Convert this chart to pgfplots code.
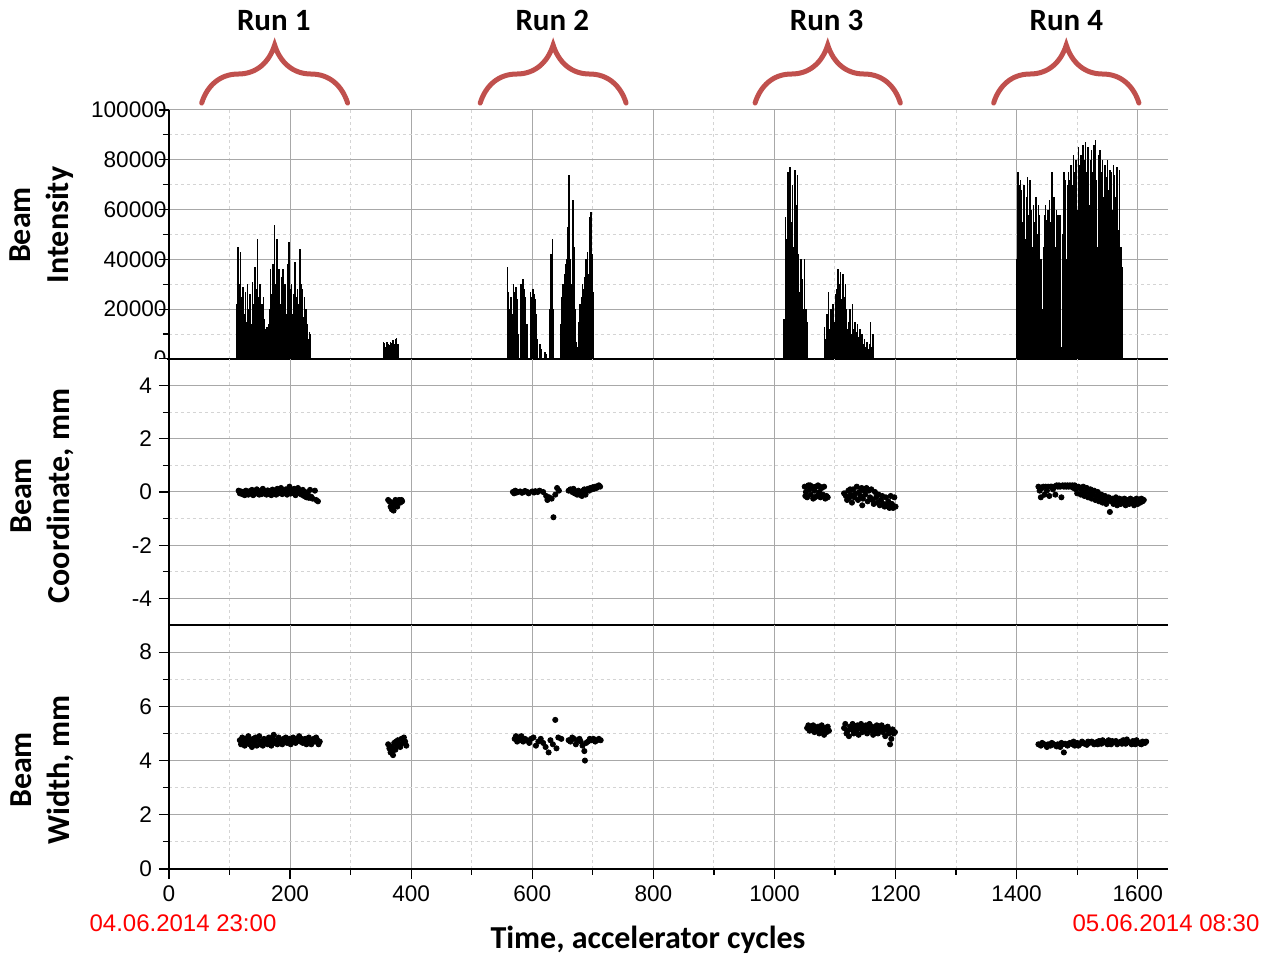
\documentclass[border=0pt]{standalone}
\usepackage{pgfplots}
\pgfplotsset{compat=1.18}
\usetikzlibrary{decorations.pathreplacing}
\usepackage{fontspec}
\setmainfont{Liberation Sans}
\newfontfamily\carlito{Carlito}
\definecolor{braceRed}{HTML}{C0504D}
\definecolor{gridMaj}{HTML}{A8A8A8}
\definecolor{gridMin}{HTML}{D4D4D4}
\pgfplotsset{
  panel/.style={
    scale only axis, width=499.5pt,
    xmin=0, xmax=1650,
    xtick={0,200,...,1600}, minor x tick num=1,
    axis x line*=bottom, axis y line*=left,
    axis line style={black, line width=0.8pt, -},
    tick align=outside,
    major tick length=5pt, minor tick length=3pt,
    every tick/.style={black, line width=0.6pt},
    grid=both,
    major grid style={gridMaj, line width=0.5pt},
    minor grid style={gridMin, line width=0.5pt, dash pattern=on 1.5pt off 1.5pt},
    tick label style={font=\fontsize{11.3}{13}\selectfont},
    /pgf/number format/fixed,
    /pgf/number format/assume math mode=true,
    /pgf/number format/1000 sep={},
    scaled y ticks=false,
    ylabel style={align=center, font=\carlito\bfseries\fontsize{16}{19}\selectfont, anchor=center},
  },
  nox/.style={xticklabels={}, major x tick style={draw=none}, minor x tick style={draw=none}},
}
\begin{document}
\begin{tikzpicture}
\useasboundingbox (-84.5pt,-44.5pt) rectangle (548.5pt,434.5pt);

% ---------------- top panel: intensity ----------------
\begin{axis}[panel, nox, at={(0,255pt)}, anchor=south west, height=124.5pt,
  ymin=0, ymax=100000, ytick={0,20000,40000,60000,80000,100000}, minor y tick num=1,
  yticklabel style={xshift=7.3pt},
  ylabel={Beam\\Intensity},
  ylabel style={at={(axis description cs:-0.127,0.538)}},
  clip=false]
\addplot[ycomb, black, line width=0.75pt, mark=none] coordinates {
(112,22000)(114,45000)(116,30000)(118,43000)(120,25000)(122,29000)(124,18000)(126,27000)(128,15000)(130,30000)
(132,20000)(134,26000)(136,14000)(138,31000)(140,22000)(142,37000)(144,28000)(146,48000)(148,25000)(150,30000)
(152,17000)(154,22000)(156,25000)(158,16000)(160,12000)(162,13000)(164,14000)(166,20000)(168,36000)(170,26000)
(172,38000)(174,54000)(176,30000)(178,48000)(180,24000)(182,36000)(184,22000)(186,33000)(188,36000)(190,25000)
(192,30000)(194,18000)(196,38000)(198,47000)(200,28000)(202,30000)(204,18000)(206,26000)(208,39000)(210,25000)
(212,28000)(214,22000)(216,44000)(218,30000)(220,28000)(222,17000)(224,25000)(226,20000)(228,14000)(230,8000)
(232,11000)(234,10000)
(354,7000)(356,6500)(358,5000)(360,7000)(362,6000)(364,5500)(366,7000)(368,6500)(370,7500)(372,6000)(374,8000)(376,8500)(378,6000)
(559,37000)(561,27000)(563,20000)(565,25000)(567,18000)(569,30000)(571,27000)(573,29000)(575,24000)(577,10000)
(581,30000)(583,27000)(585,32000)(587,28000)(589,25000)(591,14000)
(597,27000)(599,25000)(601,28000)(603,26000)(605,24000)(607,18000)(609,8000)(613,6000)(615,4000)(621,3000)(623,2000)
(629,20000)(631,42000)(633,48000)(635,20000)
(647,14000)(649,25000)(651,30000)(653,34000)(655,38000)(657,40000)(659,53000)(661,74000)(663,40000)(665,30000)
(667,64000)(669,45000)(671,20000)(673,7000)(675,5000)(677,15000)(679,22000)(681,25000)(683,30000)(685,28000)
(687,33000)(689,40000)(691,43000)(693,34000)(695,57000)(697,59000)(699,42000)(701,27000)
(1016,16000)(1018,57000)(1020,48000)(1022,75000)(1024,60000)(1026,77000)(1028,55000)(1030,70000)(1032,45000)(1034,76000)
(1036,62000)(1038,74000)(1040,42000)(1042,27000)(1044,40000)(1046,32000)(1048,20000)(1050,40000)(1052,20000)(1054,15000)
(1083,13000)(1085,8000)(1087,18000)(1089,27000)(1091,12000)(1093,20000)(1095,10000)(1097,22000)(1099,15000)(1101,26000)
(1103,28000)(1105,36000)(1107,30000)(1109,35000)(1111,24000)(1113,34000)(1115,25000)(1117,30000)(1119,20000)(1121,12000)
(1123,15000)(1125,20000)(1127,10000)(1129,22000)(1131,12000)(1133,15000)(1135,11000)(1137,14000)(1139,9000)(1141,12000)
(1143,7000)(1145,10000)(1147,6000)(1149,8000)(1151,5000)(1153,7000)(1155,4000)(1157,6000)(1159,15000)(1161,5000)(1163,10000)
(1400,40000)(1402,75000)(1404,70000)(1406,72000)(1408,68000)(1410,55000)(1412,70000)(1414,48000)(1416,65000)(1418,73000)
(1420,58000)(1422,72000)(1424,60000)(1426,45000)(1428,62000)(1430,55000)(1432,65000)(1434,50000)(1436,62000)(1438,58000)
(1440,40000)(1442,20000)(1444,45000)(1446,58000)(1448,62000)(1450,56000)(1452,60000)(1454,64000)(1456,55000)(1458,75000)
(1460,50000)(1462,65000)(1464,45000)(1466,60000)(1468,58000)(1470,40000)(1472,58000)(1474,5000)(1476,50000)(1478,75000)
(1480,72000)(1482,40000)(1484,70000)(1486,75000)(1488,72000)(1490,78000)(1492,70000)(1494,82000)(1496,75000)(1498,80000)
(1500,60000)(1502,85000)(1504,78000)(1506,82000)(1508,65000)(1510,86000)(1512,80000)(1514,87000)(1516,75000)(1518,85000)
(1520,62000)(1522,80000)(1524,84000)(1526,75000)(1528,86000)(1530,88000)(1532,72000)(1534,45000)(1536,82000)(1538,84000)
(1540,75000)(1542,80000)(1544,65000)(1546,78000)(1548,73000)(1550,80000)(1552,68000)(1554,76000)(1556,75000)(1558,60000)
(1560,78000)(1562,74000)(1564,65000)(1566,77000)(1568,52000)(1570,76000)(1572,45000)(1574,37000)
};
\draw[decorate, decoration={brace, amplitude=29pt}, line width=2.5pt, braceRed, line cap=round] (axis cs:54,102800) -- (axis cs:295,102800);
\draw[decorate, decoration={brace, amplitude=29pt}, line width=2.5pt, braceRed, line cap=round] (axis cs:514,102800) -- (axis cs:755,102800);
\draw[decorate, decoration={brace, amplitude=29pt}, line width=2.5pt, braceRed, line cap=round] (axis cs:968,102800) -- (axis cs:1208,102800);
\draw[decorate, decoration={brace, amplitude=29pt}, line width=2.5pt, braceRed, line cap=round] (axis cs:1362,102800) -- (axis cs:1602,102800);
\node[font=\carlito\bfseries\fontsize{15.5}{18}\selectfont] at (axis cs:173,136000) {Run 1};
\node[font=\carlito\bfseries\fontsize{15.5}{18}\selectfont] at (axis cs:633,136000) {Run 2};
\node[font=\carlito\bfseries\fontsize{15.5}{18}\selectfont] at (axis cs:1086,136000) {Run 3};
\node[font=\carlito\bfseries\fontsize{15.5}{18}\selectfont] at (axis cs:1482,136000) {Run 4};
\end{axis}

% ---------------- middle panel: coordinate ----------------
\begin{axis}[panel, nox, at={(0,122pt)}, anchor=south west, height=133pt,
  ymin=-5, ymax=5, ytick={-4,-2,0,2,4}, minor y tick num=1,
  ylabel={Beam\\Coordinate, mm},
  ylabel style={at={(axis description cs:-0.127,0.485)}},
  clip=false]
\fill[white] (axis description cs:-0.045,1) rectangle (axis description cs:-0.002,0.965);
\addplot[only marks, mark=*, mark size=1.3pt, black] coordinates {
(115,0.05)(117,-0.05)(119,0.02)(121,-0.08)(123,0.0)(125,-0.12)(127,0.05)(129,-0.03)(131,-0.1)(133,0.03)
(135,-0.05)(137,0.08)(139,-0.12)(141,0.0)(143,-0.06)(145,0.1)(147,-0.02)(149,-0.1)(151,0.04)(153,-0.08)
(155,0.12)(157,-0.04)(159,0.02)(161,-0.1)(163,0.06)(165,-0.07)(167,0.0)(169,-0.12)(171,0.09)(173,-0.03)
(175,0.05)(177,-0.1)(179,0.12)(181,-0.05)(183,0.02)(185,0.15)(187,-0.08)(189,0.05)(191,-0.02)(193,0.1)
(195,-0.1)(197,0.04)(199,0.2)(201,-0.06)(203,0.08)(205,-0.02)(207,0.12)(209,-0.12)(211,0.05)(213,0.15)
(215,-0.05)(217,0.02)(219,-0.1)(221,0.08)(223,-0.15)(225,0.0)(227,-0.2)(229,-0.05)(231,-0.22)(233,0.08)
(235,-0.18)(237,-0.25)(241,0.05)(243,-0.3)(246,-0.35)
(362,-0.3)(364,-0.35)(366,-0.55)(368,-0.65)(370,-0.4)(372,-0.5)(374,-0.3)(376,-0.45)(378,-0.35)(380,-0.3)
(382,-0.4)(384,-0.3)(371,-0.7)(369,-0.45)(377,-0.55)(385,-0.35)
(568,0.0)(570,-0.05)(572,0.05)(574,-0.02)(576,0.0)(580,0.02)(583,-0.03)(586,0.0)(588,0.04)(592,0.0)
(594,-0.05)(600,0.02)(603,-0.02)(605,0.03)(609,0.0)(612,0.05)(618,0.0)(623,-0.15)(625,-0.3)(628,-0.2)
(632,-0.25)(635,-0.95)(638,-0.1)(641,0.15)(644,0.05)(660,0.05)(663,0.1)(666,0.0)(668,0.12)(670,-0.05)
(672,0.0)(674,-0.1)(676,0.05)(678,-0.1)(680,0.0)(682,-0.05)(684,0.05)(686,0.1)(688,0.0)(690,0.08)
(692,0.12)(694,0.05)(696,0.15)(698,0.1)(700,0.18)(702,0.12)(704,0.2)(706,0.15)(708,0.22)(710,0.25)
(712,0.2)(688,-0.1)(682,-0.15)
(1050,0.2)(1052,0.0)(1054,-0.2)(1056,0.25)(1058,0.1)(1060,-0.1)(1062,0.2)(1064,-0.25)(1066,0.05)(1068,0.2)
(1070,-0.15)(1072,0.25)(1074,0.0)(1076,-0.2)(1078,0.15)(1080,-0.1)(1082,0.2)(1084,-0.25)(1086,-0.15)(1088,-0.2)
(1051,-0.15)(1059,0.25)(1067,-0.2)(1075,0.2)
(1115,-0.05)(1118,-0.15)(1120,-0.3)(1122,0.05)(1124,-0.2)(1126,-0.1)(1128,-0.4)(1130,0.1)(1132,-0.2)(1134,-0.05)
(1136,0.2)(1138,-0.3)(1140,0.0)(1142,-0.15)(1144,0.15)(1146,-0.25)(1148,0.05)(1150,-0.1)(1152,0.15)(1154,-0.35)
(1156,0.05)(1158,-0.2)(1160,0.1)(1162,-0.3)(1164,-0.45)(1166,0.0)(1168,-0.2)(1170,-0.4)(1172,-0.1)(1174,-0.5)
(1176,-0.3)(1178,-0.15)(1180,-0.45)(1182,-0.55)(1184,-0.2)(1186,-0.5)(1188,-0.35)(1190,-0.6)(1192,-0.15)(1194,-0.45)
(1196,-0.6)(1198,-0.2)(1200,-0.55)(1145,-0.5)(1125,0.1)
(1436,0.2)(1438,0.05)(1440,-0.2)(1442,0.15)(1444,0.2)(1446,-0.1)(1448,0.2)(1450,0.05)(1452,0.2)(1454,-0.15)
(1456,0.2)(1458,0.2)(1460,0.1)(1462,0.2)(1464,-0.1)(1466,0.25)(1468,0.2)(1470,0.25)(1472,0.2)(1474,-0.2)
(1476,0.25)(1478,0.2)(1480,0.25)(1482,0.2)(1484,0.25)(1486,0.2)(1488,0.25)(1490,0.2)(1492,0.25)(1494,0.15)
(1496,0.25)(1498,0.1)(1500,-0.05)(1502,0.2)(1504,0.15)(1506,-0.1)(1508,0.05)(1510,0.2)(1512,-0.15)(1514,0.0)
(1516,0.15)(1518,-0.2)(1520,-0.05)(1522,0.1)(1524,-0.25)(1526,-0.1)(1528,0.05)(1530,-0.3)(1532,-0.15)(1534,0.0)
(1536,-0.35)(1538,-0.2)(1540,-0.1)(1542,-0.4)(1544,-0.25)(1546,-0.15)(1548,-0.45)(1550,-0.3)(1552,-0.2)(1554,-0.75)
(1556,-0.35)(1558,-0.25)(1560,-0.45)(1562,-0.3)(1564,-0.2)(1566,-0.5)(1568,-0.35)(1570,-0.25)(1572,-0.45)(1574,-0.3)
(1576,-0.4)(1578,-0.25)(1580,-0.5)(1582,-0.35)(1584,-0.3)(1586,-0.45)(1588,-0.25)(1590,-0.4)(1592,-0.3)(1594,-0.5)
(1596,-0.35)(1598,-0.25)(1600,-0.45)(1602,-0.3)(1604,-0.4)(1606,-0.25)(1608,-0.35)(1610,-0.3)
};
\end{axis}

% ---------------- bottom panel: width ----------------
\begin{axis}[panel, at={(0,0)}, anchor=south west, height=122pt,
  ymin=0, ymax=9, ytick={0,2,4,6,8}, minor ytick={1,3,5,7},
  ylabel={Beam\\Width, mm},
  ylabel style={at={(axis description cs:-0.127,0.406)}},
  xlabel={Time, accelerator cycles},
  xlabel style={at={(axis description cs:0.4795,-0.291)}, anchor=center, font=\carlito\bfseries\fontsize{16}{19}\selectfont},
  clip=false]
\addplot[only marks, mark=*, mark size=1.3pt, black] coordinates {
(117,4.75)(119,4.6)(121,4.85)(123,4.7)(125,4.55)(127,4.8)(129,4.65)(131,4.9)(133,4.6)(135,4.75)
(137,4.5)(139,4.8)(141,4.65)(143,4.85)(145,4.55)(147,4.75)(149,4.9)(151,4.6)(153,4.7)(155,4.55)
(157,4.8)(159,4.65)(161,4.75)(163,4.6)(165,4.85)(167,4.7)(169,4.55)(171,4.8)(173,4.95)(175,4.65)
(177,4.75)(179,4.6)(181,4.85)(183,4.7)(185,4.75)(187,4.6)(189,4.8)(191,4.7)(193,4.85)(195,4.65)
(197,4.75)(199,4.8)(201,4.6)(203,4.75)(205,4.85)(207,4.7)(209,4.65)(211,4.8)(213,4.75)(215,4.9)
(217,4.7)(219,4.8)(221,4.65)(223,4.75)(225,4.8)(227,4.6)(229,4.75)(231,4.85)(233,4.7)(235,4.6)
(237,4.75)(239,4.8)(241,4.7)(243,4.85)(245,4.75)(247,4.6)(249,4.7)
(362,4.6)(364,4.45)(366,4.3)(368,4.5)(370,4.2)(372,4.65)(374,4.4)(376,4.55)(378,4.75)(380,4.6)
(382,4.5)(384,4.8)(386,4.65)(388,4.85)(390,4.7)(392,4.55)(369,4.35)(375,4.7)
(571,4.8)(573,4.9)(575,4.7)(577,4.85)(579,4.75)(582,4.9)(585,4.7)(588,4.8)(591,4.75)(595,4.65)
(598,4.8)(602,4.85)(606,4.55)(610,4.7)(614,4.8)(618,4.65)(622,4.5)(627,4.3)(630,4.75)(634,4.6)
(638,5.5)(640,4.45)(643,4.85)(648,4.8)(660,4.75)(663,4.7)(666,4.85)(669,4.8)(672,4.6)(675,4.75)
(678,4.8)(680,4.7)(683,4.55)(686,4.35)(687,4.0)(689,4.65)(692,4.7)(695,4.8)(698,4.75)(701,4.8)
(704,4.7)(707,4.75)(710,4.8)(713,4.75)
(1054,5.2)(1056,5.3)(1058,5.1)(1060,5.25)(1062,5.15)(1064,5.3)(1066,5.05)(1068,5.2)(1070,5.1)(1072,5.25)
(1074,5.0)(1076,5.15)(1078,5.3)(1080,5.1)(1082,4.95)(1084,5.2)(1086,5.05)(1088,5.25)(1090,5.1)
(1115,5.2)(1117,5.35)(1119,5.0)(1121,5.1)(1123,4.9)(1125,5.25)(1127,5.15)(1129,5.35)(1131,5.0)(1133,5.2)
(1135,5.1)(1137,5.3)(1139,4.95)(1141,5.2)(1143,5.35)(1145,5.05)(1147,5.25)(1149,5.15)(1151,5.3)(1153,5.0)
(1155,5.2)(1157,5.35)(1159,5.1)(1161,5.25)(1163,4.95)(1165,5.2)(1167,5.1)(1169,5.3)(1171,5.0)(1173,5.2)
(1175,5.15)(1177,5.3)(1179,5.05)(1181,5.2)(1183,4.9)(1185,5.15)(1187,5.25)(1189,5.0)(1191,5.1)(1193,4.8)
(1195,5.15)(1197,5.0)(1199,5.05)(1191,4.6)
(1436,4.6)(1440,4.55)(1444,4.62)(1448,4.58)(1452,4.6)(1456,4.55)(1460,4.62)(1464,4.57)(1468,4.6)(1472,4.5)
(1476,4.6)(1478,4.3)(1480,4.62)(1484,4.55)(1488,4.65)(1492,4.6)(1496,4.55)(1500,4.65)(1504,4.6)(1508,4.7)
(1512,4.62)(1516,4.58)(1520,4.65)(1524,4.7)(1528,4.6)(1532,4.68)(1536,4.72)(1540,4.62)(1544,4.7)(1548,4.65)
(1552,4.75)(1556,4.6)(1560,4.68)(1564,4.72)(1568,4.65)(1572,4.7)(1576,4.75)(1580,4.62)(1584,4.7)(1588,4.65)
(1592,4.72)(1596,4.6)(1600,4.68)(1604,4.62)(1608,4.7)(1612,4.65)(1442,4.65)(1450,4.5)(1458,4.65)(1466,4.52)
(1474,4.65)(1486,4.62)(1494,4.7)(1502,4.55)(1510,4.65)(1518,4.7)(1526,4.65)(1534,4.6)(1542,4.75)(1550,4.6)
(1558,4.72)(1566,4.6)(1574,4.62)(1582,4.78)(1590,4.6)(1598,4.75)(1606,4.6)(1614,4.7)
};
\node[red, font=\fontsize{12}{14}\selectfont] at (axis description cs:0.014,-0.221) {04.06.2014 23:00};
\node[red, font=\fontsize{12}{14}\selectfont] at (axis description cs:0.998,-0.221) {05.06.2014 08:30};
\end{axis}
\end{tikzpicture}
\end{document}
